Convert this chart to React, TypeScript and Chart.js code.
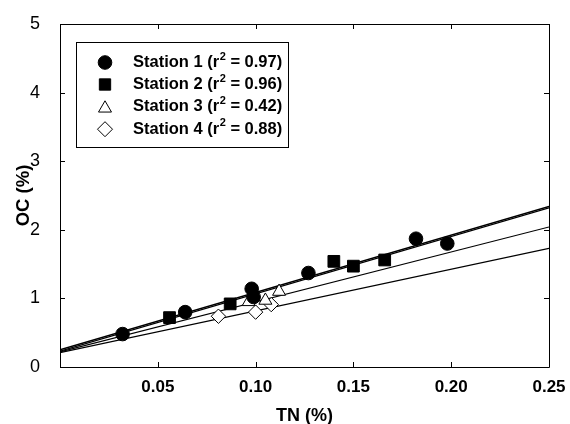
import React, { useEffect, useRef } from "react";
import { Chart, registerables } from "chart.js";

Chart.register(...registerables);

const stationNames = ["Station 1", "Station 2", "Station 3", "Station 4"];
const r2Values = ["0.97", "0.96", "0.42", "0.88"];

const station1X = [0.032, 0.064, 0.098, 0.099, 0.127, 0.182, 0.198];
const station1Y = [0.48, 0.8, 1.14, 1.02, 1.37, 1.87, 1.8];
const station2X = [0.056, 0.087, 0.14, 0.15, 0.166];
const station2Y = [0.72, 0.92, 1.54, 1.47, 1.56];
const station3X = [0.0965, 0.105, 0.112];
const station3Y = [0.95, 0.97, 1.1];
const station4X = [0.081, 0.1, 0.108];
const station4Y = [0.74, 0.8, 0.91];

// regression lines read at TN = 0 and TN = 0.25
const fitX = [0, 0.25];
const fitStartY = [0.25, 0.23, 0.22, 0.21];
const fitEndY = [2.34, 2.32, 2.04, 1.73];
const fitWidths = [1.4, 1.2, 1.1, 1.1];

const xTicks = [0, 0.05, 0.1, 0.15, 0.2, 0.25];
const yTicks = [0, 1, 2, 3, 4, 5];

const pointStyles = ["circle", "rect", "triangle", "rectRot"];
const pointFills = ["#000", "#000", "#fff", "#fff"];
const pointRadii = [6.8, 8.3, 7.5, 7.2];

function toPoints(xs: number[], ys: number[]) {
  return xs.map((x, i) => ({ x, y: ys[i] }));
}

const FONT = '"Liberation Sans", Arial, sans-serif';

const frameTicks = {
  id: "frameTicks",
  afterDatasetsDraw(chart: any) {
    const { ctx, chartArea } = chart;
    const { left, right, top, bottom } = chartArea;
    const xs = chart.scales.x;
    const ys = chart.scales.y;
    ctx.save();
    ctx.strokeStyle = "#000";
    ctx.lineWidth = 1;
    ctx.beginPath();
    ctx.rect(Math.round(left) + 0.5, Math.round(top) + 0.5, Math.round(right - left), Math.round(bottom - top));
    ctx.stroke();
    const len = 5;
    ctx.beginPath();
    xTicks.forEach((v) => {
      const px = Math.round(xs.getPixelForValue(v)) + 0.5;
      ctx.moveTo(px, bottom);
      ctx.lineTo(px, bottom - len);
      ctx.moveTo(px, top);
      ctx.lineTo(px, top + len);
    });
    yTicks.forEach((v) => {
      const py = Math.round(ys.getPixelForValue(v)) + 0.5;
      ctx.moveTo(left, py);
      ctx.lineTo(left + len, py);
      ctx.moveTo(right, py);
      ctx.lineTo(right - len, py);
    });
    ctx.stroke();
    ctx.restore();
  },
};

function drawMarker(ctx: CanvasRenderingContext2D, style: string, x: number, y: number, r: number, fill: string) {
  ctx.beginPath();
  if (style === "circle") {
    ctx.arc(x, y, r, 0, Math.PI * 2);
  } else if (style === "rect") {
    const s = Math.SQRT1_2 * r;
    ctx.rect(x - s, y - s, 2 * s, 2 * s);
  } else if (style === "triangle") {
    for (let k = 0; k < 3; k++) {
      const a = (k * 2 * Math.PI) / 3;
      const px = x + Math.sin(a) * r;
      const py = y - Math.cos(a) * r;
      if (k === 0) ctx.moveTo(px, py);
      else ctx.lineTo(px, py);
    }
    ctx.closePath();
  } else {
    ctx.moveTo(x, y - r);
    ctx.lineTo(x + r, y);
    ctx.lineTo(x, y + r);
    ctx.lineTo(x - r, y);
    ctx.closePath();
  }
  ctx.fillStyle = fill;
  ctx.fill();
  ctx.strokeStyle = "#000";
  ctx.lineWidth = 1;
  ctx.stroke();
}

const boxLegend = {
  id: "boxLegend",
  afterDraw(chart: any) {
    const { ctx } = chart;
    ctx.save();
    ctx.strokeStyle = "#000";
    ctx.lineWidth = 1;
    ctx.strokeRect(76.5, 42.5, 212, 105);
    const rowY = [62.5, 84.5, 106.8, 129.2];
    stationNames.forEach((name, i) => {
      const y = rowY[i];
      const r = i === 0 ? 6.8 : i === 1 ? 8 : 7.5;
      drawMarker(ctx, pointStyles[i], 105, i === 2 ? y + 1.5 : y, r, pointFills[i]);
      ctx.fillStyle = "#000";
      ctx.textBaseline = "middle";
      ctx.textAlign = "left";
      ctx.font = `bold 16.5px ${FONT}`;
      let x = 133;
      const part1 = `${name} (r`;
      ctx.fillText(part1, x, y);
      x += ctx.measureText(part1).width;
      ctx.font = `bold 11px ${FONT}`;
      ctx.fillText("2", x + 0.5, y - 6);
      x += ctx.measureText("2").width + 0.5;
      ctx.font = `bold 16.5px ${FONT}`;
      ctx.fillText(` = ${r2Values[i]})`, x, y);
    });
    ctx.restore();
  },
};

export default function App() {
  const ref = useRef<HTMLCanvasElement | null>(null);
  useEffect(() => {
    document.body.style.margin = "0";
    if (!ref.current) return;
    const stationData = [
      toPoints(station1X, station1Y),
      toPoints(station2X, station2Y),
      toPoints(station3X, station3Y),
      toPoints(station4X, station4Y),
    ];
    const scatterSets = stationData.map((d, i) => ({
      type: "scatter" as const,
      label: stationNames[i],
      data: d,
      pointStyle: pointStyles[i],
      pointRadius: pointRadii[i],
      pointBackgroundColor: pointFills[i],
      pointBorderColor: "#000",
      pointBorderWidth: 1,
      showLine: false,
      order: i + 1,
    }));
    const lineSets = fitStartY.map((y0, i) => ({
      type: "line" as const,
      label: `fit ${i + 1}`,
      data: [
        { x: fitX[0], y: y0 },
        { x: fitX[1], y: fitEndY[i] },
      ],
      borderColor: "#000",
      borderWidth: fitWidths[i],
      pointRadius: 0,
      fill: false,
      order: 10 + i,
    }));
    const chart = new Chart(ref.current, {
      type: "scatter",
      data: { datasets: [...scatterSets, ...lineSets] as any },
      plugins: [frameTicks, boxLegend],
      options: {
        animation: false,
        responsive: false,
        maintainAspectRatio: false,
        layout: { padding: { top: 24, right: 21, left: 0, bottom: 0 } },
        plugins: { legend: { display: false }, tooltip: { enabled: false } },
        scales: {
          x: {
            type: "linear",
            min: 0,
            max: 0.25,
            afterFit: (s: any) => {
              s.height = 57;
            },
            afterBuildTicks: (s: any) => {
              s.ticks = xTicks.map((v) => ({ value: v }));
            },
            ticks: {
              padding: 2,
              color: "#000",
              font: { family: FONT, size: 17, weight: "bold" },
              callback: (v: any) => (Number(v) === 0 ? "" : Number(v).toFixed(2)),
              maxRotation: 0,
            },
            grid: { display: false },
            border: { display: false },
            title: {
              display: true,
              text: "TN (%)",
              color: "#000",
              font: { family: FONT, size: 18, weight: "bold" },
              padding: { top: 0, bottom: -3 },
            },
          },
          y: {
            type: "linear",
            min: 0,
            max: 5,
            afterFit: (s: any) => {
              s.width = 60;
            },
            afterBuildTicks: (s: any) => {
              s.ticks = yTicks.map((v) => ({ value: v }));
            },
            ticks: {
              padding: 12,
              color: "#000",
              font: { family: FONT, size: 18 },
              callback: (v: any) => String(v),
            },
            grid: { display: false },
            border: { display: false },
            title: {
              display: true,
              text: "OC (%)",
              color: "#000",
              font: { family: FONT, size: 18.5, weight: "bold" },
              padding: { top: 13, bottom: 0 },
            },
          },
        },
      } as any,
    });
    return () => chart.destroy();
  }, []);
  return (
    <div style={{ width: 570, height: 424 }}>
      <canvas ref={ref} width={570} height={424} style={{ display: "block" }} />
    </div>
  );
}
